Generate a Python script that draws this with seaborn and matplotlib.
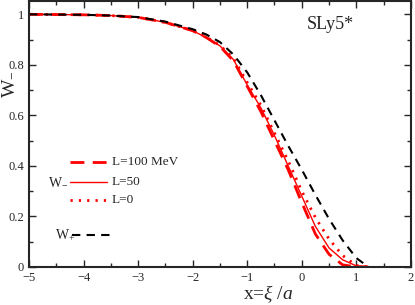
import numpy as np
import pandas as pd
import matplotlib
matplotlib.use("Agg")
import matplotlib.pyplot as plt
import seaborn as sns
from matplotlib.ticker import MultipleLocator, FuncFormatter

# values
x_vals = [-5, -4.5, -4, -3.5, -3, -2.5, -2, -1.75, -1.5, -1.25, -1, -0.75,
          -0.5, -0.25, 0, 0.25, 0.5, 0.75, 1.0, 1.22]
w_minus_L100 = [1.0, 0.999, 0.998, 0.995, 0.988, 0.968, 0.935, 0.908, 0.873, 0.815,
                0.715, 0.615, 0.50, 0.385, 0.255, 0.13, 0.05, 0.008, 0.0, 0.0]
w_minus_L50 = [1.0, 0.999, 0.998, 0.995, 0.988, 0.968, 0.935, 0.908, 0.875, 0.82,
               0.72, 0.63, 0.52, 0.40, 0.28, 0.16, 0.075, 0.028, 0.004, 0.0]
w_minus_L0 = [1.0, 0.999, 0.998, 0.995, 0.988, 0.968, 0.936, 0.91, 0.877, 0.825,
              0.73, 0.64, 0.53, 0.42, 0.30, 0.195, 0.11, 0.045, 0.005, 0.0]
w_plus = [1.0, 0.999, 0.998, 0.995, 0.989, 0.971, 0.941, 0.92, 0.89, 0.84,
          0.77, 0.68, 0.58, 0.48, 0.385, 0.285, 0.19, 0.105, 0.035, 0.0]

sns.set_style("ticks")
plt.rcParams['font.family'] = ['Liberation Serif', 'DejaVu Serif']
plt.rcParams['mathtext.fontset'] = 'custom'
plt.rcParams['mathtext.rm'] = 'Liberation Serif'
plt.rcParams['mathtext.it'] = 'Liberation Serif:italic'

fig = plt.figure(figsize=(4.15, 3.05), dpi=100)
ax = fig.add_axes([0.07, 0.125, 0.92, 0.872])

sns.lineplot(x=x_vals, y=w_minus_L100, color='red', linewidth=2, ax=ax)
ax.lines[-1].set_dashes([5, 3])
sns.lineplot(x=x_vals, y=w_minus_L50, color='red', linewidth=1, ax=ax)
sns.lineplot(x=x_vals, y=w_minus_L0, color='red', linewidth=2, ax=ax)
ax.lines[-1].set_dashes([0.8, 2.2])
sns.lineplot(x=x_vals, y=w_plus, color='black', linewidth=1.5, ax=ax)
ax.lines[-1].set_dashes([4, 3])

# hand-made legend
ax.plot([-4.25, -3.57], [0.417, 0.417], color='red', lw=2, dashes=[5, 3])
ax.text(-3.48, 0.417, 'L=100 MeV', fontsize=9.5, va='center')
ax.plot([-4.25, -3.57], [0.338, 0.338], color='red', lw=1)
ax.text(-3.48, 0.338, 'L=50', fontsize=9.5, va='center')
ax.text(-4.65, 0.338, 'W$_{-}$', fontsize=10, va='center')
ax.plot([-4.25, -3.57], [0.265, 0.265], color='red', lw=2, dashes=[0.8, 2.2])
ax.text(-3.48, 0.265, 'L=0', fontsize=9.5, va='center')
ax.text(-4.52, 0.13, 'W$_{+}$', fontsize=10, va='center')
ax.plot([-4.21, -3.46], [0.127, 0.127], color='black', lw=1.5, dashes=[4, 3])

ax.text(0.09, 0.96, 'SLy5*', fontsize=13, va='center')

ax.set_xlim(-5, 2)
ax.set_ylim(0, 1.053)
ax.xaxis.set_major_locator(MultipleLocator(1))
ax.xaxis.set_minor_locator(MultipleLocator(0.5))
ax.yaxis.set_major_locator(MultipleLocator(0.2))
ax.yaxis.set_minor_locator(MultipleLocator(0.1))
ax.yaxis.set_major_formatter(FuncFormatter(lambda v, p: '%g' % round(v, 1)))
ax.tick_params(which='both', direction='in', top=True, right=True, labelsize=9)
ax.tick_params(which='major', length=5, width=1)
ax.tick_params(which='minor', length=3, width=1)
for s in ax.spines.values():
    s.set_linewidth(1.5)

ax.set_xlabel(r'x=$\xi$ /$a$', fontsize=14, labelpad=0)
ax.xaxis.set_label_coords(0.626, -0.062, transform=ax.transAxes)
ax.xaxis.label.set_va('top')
ax.text(-0.055, 0.685, 'W$_{-}$', fontsize=14, rotation=90,
        ha='center', va='center', transform=ax.transAxes)

fig.savefig('out.png', dpi=100)
